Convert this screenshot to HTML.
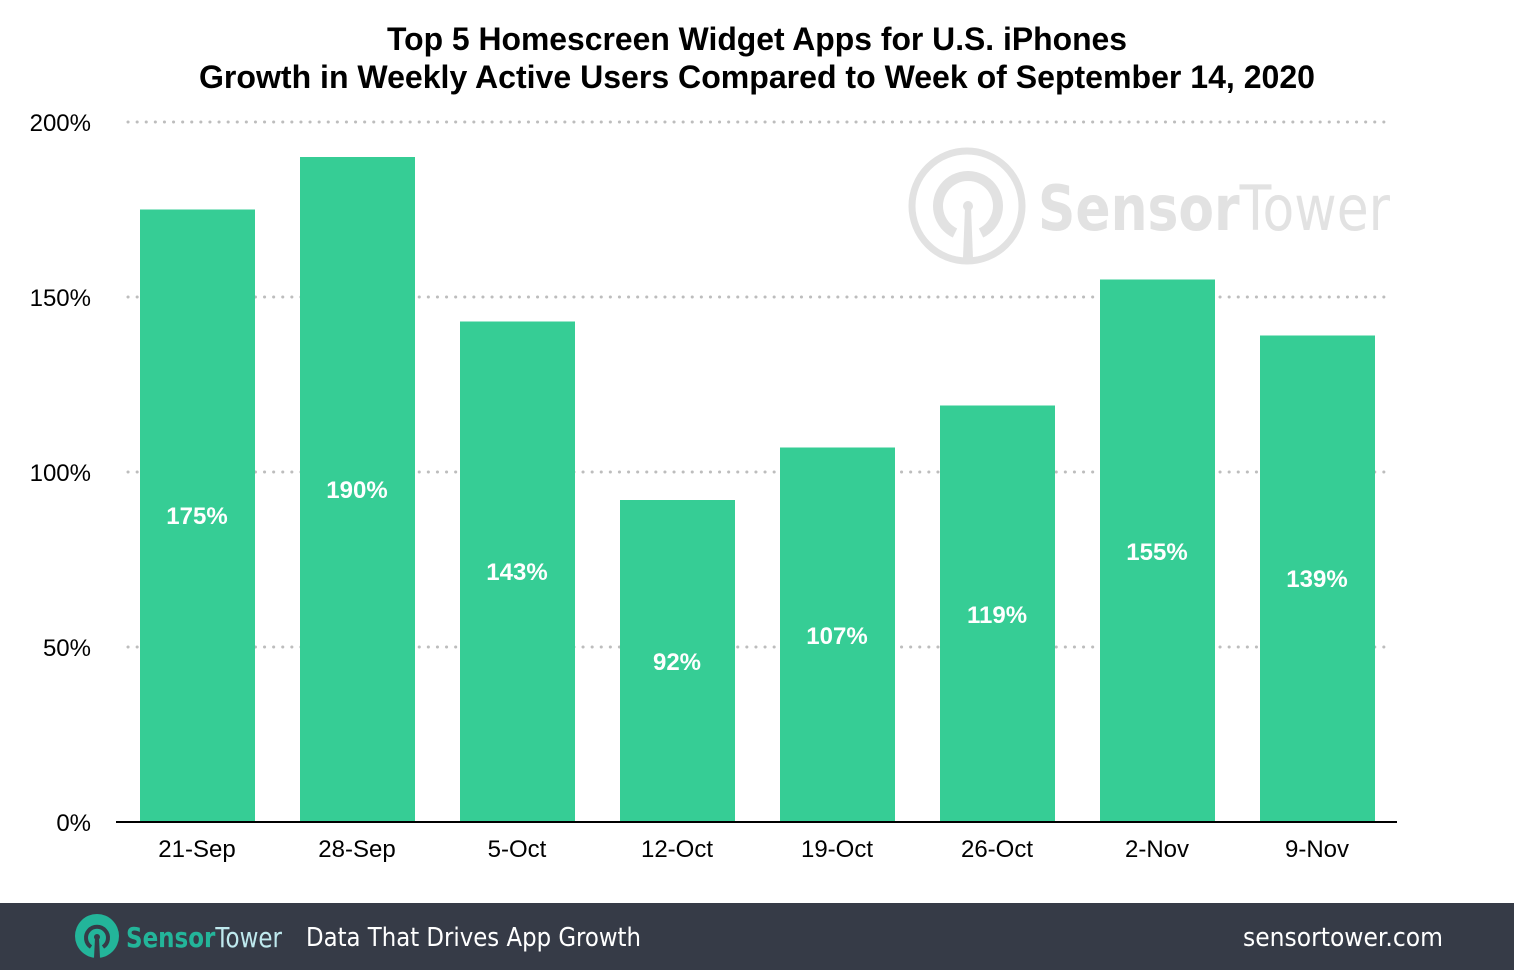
<!DOCTYPE html>
<html><head><meta charset="utf-8"><style>
html,body{margin:0;padding:0;background:#fff;}
svg{display:block;font-family:"Liberation Sans",Arial,sans-serif;}
</style></head><body>
<svg width="1514" height="970" viewBox="0 0 1514 970">
<rect width="1514" height="970" fill="#fff"/>
<text x="757" y="50" text-anchor="middle" font-size="32" font-weight="bold" fill="#000" textLength="740" lengthAdjust="spacingAndGlyphs">Top 5 Homescreen Widget Apps for U.S. iPhones</text>
<text x="757" y="88" text-anchor="middle" font-size="32" font-weight="bold" fill="#000" textLength="1116" lengthAdjust="spacingAndGlyphs">Growth in Weekly Active Users Compared to Week of September 14, 2020</text>
<!-- watermark -->
<g fill="none" stroke="#e2e2e2">
<circle cx="967" cy="206" r="55" stroke-width="7"/>
<path d="M955,233 A30,30 0 1 1 981,233" stroke-width="10"/>
</g>
<circle cx="968" cy="206" r="5" fill="#e2e2e2"/>
<path d="M965,208 L971,208 L973,258 L963,258Z" fill="#e2e2e2"/>
<text x="1038" y="230" font-size="62" fill="#e2e2e2" font-family="'DejaVu Sans',sans-serif" textLength="352" lengthAdjust="spacingAndGlyphs"><tspan font-weight="bold">Sensor</tspan>Tower</text>
<!-- grid -->
<g stroke="#bdbdbd" stroke-width="3" stroke-dasharray="0.1 9" stroke-linecap="round">
<line x1="128" y1="122" x2="1392" y2="122"/>
<line x1="128" y1="297" x2="1392" y2="297"/>
<line x1="128" y1="472" x2="1392" y2="472"/>
<line x1="128" y1="647" x2="1392" y2="647"/>
</g>
<g font-size="24" fill="#000" text-anchor="end">
<text x="91" y="131">200%</text>
<text x="91" y="306">150%</text>
<text x="91" y="481">100%</text>
<text x="91" y="656">50%</text>
<text x="91" y="831">0%</text>
</g>
<g fill="#36cd95">
<rect x="140" y="209.5" width="115" height="612.5"/>
<rect x="300" y="157" width="115" height="665"/>
<rect x="460" y="321.5" width="115" height="500.5"/>
<rect x="620" y="500" width="115" height="322"/>
<rect x="780" y="447.5" width="115" height="374.5"/>
<rect x="940" y="405.5" width="115" height="416.5"/>
<rect x="1100" y="279.5" width="115" height="542.5"/>
<rect x="1260" y="335.5" width="115" height="486.5"/>
</g>
<g font-size="24" font-weight="bold" fill="#fff" text-anchor="middle">
<text x="197" y="524">175%</text>
<text x="357" y="498">190%</text>
<text x="517" y="580">143%</text>
<text x="677" y="670">92%</text>
<text x="837" y="644">107%</text>
<text x="997" y="623">119%</text>
<text x="1157" y="560">155%</text>
<text x="1317" y="587">139%</text>
</g>
<line x1="116" y1="822" x2="1397" y2="822" stroke="#000" stroke-width="2"/>
<g font-size="24" fill="#000" text-anchor="middle">
<text x="197" y="857">21-Sep</text>
<text x="357" y="857">28-Sep</text>
<text x="517" y="857">5-Oct</text>
<text x="677" y="857">12-Oct</text>
<text x="837" y="857">19-Oct</text>
<text x="997" y="857">26-Oct</text>
<text x="1157" y="857">2-Nov</text>
<text x="1317" y="857">9-Nov</text>
</g>
<!-- footer -->
<rect x="0" y="903" width="1514" height="67" fill="#363b47"/>
<circle cx="97" cy="936" r="22" fill="#23b59a"/>
<path d="M91,947 A11,11 0 1 1 103,947" fill="none" stroke="#363b47" stroke-width="4"/>
<circle cx="97" cy="937" r="3" fill="#363b47"/>
<path d="M95,938 L99,938 L100,958 L94,958Z" fill="#363b47"/>
<text x="126" y="947" font-size="28" fill="#23b59a" font-family="'DejaVu Sans',sans-serif" textLength="156" lengthAdjust="spacingAndGlyphs"><tspan font-weight="bold">Sensor</tspan><tspan fill="#bfe9ee">Tower</tspan></text>
<text x="306" y="946" font-size="26" fill="#fff" font-family="'DejaVu Sans',sans-serif" textLength="335" lengthAdjust="spacingAndGlyphs">Data That Drives App Growth</text>
<text x="1243" y="946" font-size="26" fill="#fff" font-family="'DejaVu Sans',sans-serif" textLength="200" lengthAdjust="spacingAndGlyphs">sensortower.com</text>
</svg>
</body></html>
